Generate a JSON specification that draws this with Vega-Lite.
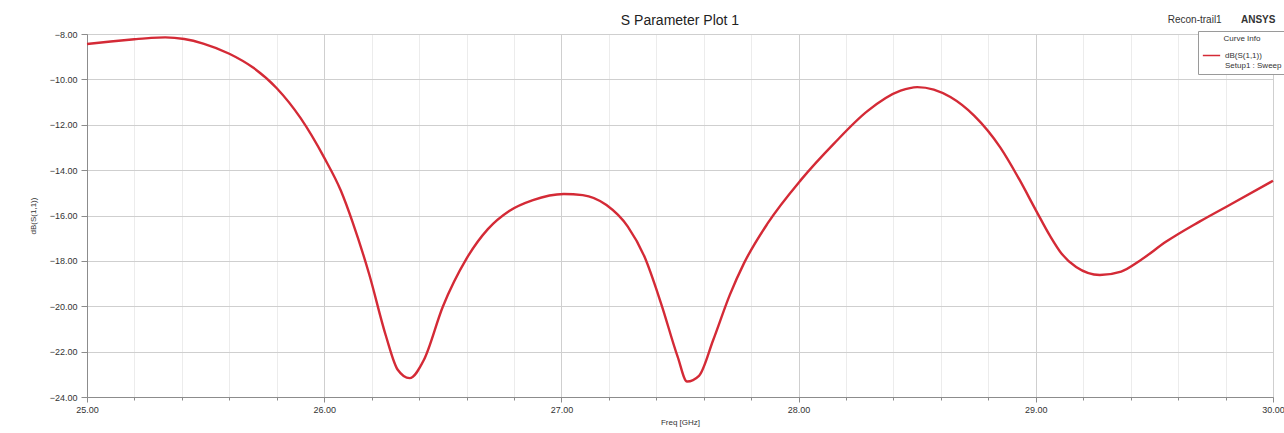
{
  "$schema": "https://vega.github.io/schema/vega-lite/v6.json",
  "width": 1186,
  "height": 363,
  "autosize": {"type": "none"},
  "padding": {"left": 87, "top": 34, "right": 11, "bottom": 36},
  "background": "white",
  "config": {
    "font": "Liberation Sans",
    "view": {"stroke": "#8c8c8c", "strokeWidth": 1}
  },
  "title": {
    "text": "S Parameter Plot 1",
    "fontSize": 14,
    "fontWeight": "normal",
    "color": "#222222",
    "offset": -13,
    "anchor": "middle"
  },
  "datasets": {
    "s11": [
      {"f": 25.00, "db": -8.44, "series": "dB(S(1,1))"},
      {"f": 25.10, "db": -8.33, "series": "dB(S(1,1))"},
      {"f": 25.20, "db": -8.23, "series": "dB(S(1,1))"},
      {"f": 25.27, "db": -8.17, "series": "dB(S(1,1))"},
      {"f": 25.33, "db": -8.15, "series": "dB(S(1,1))"},
      {"f": 25.41, "db": -8.22, "series": "dB(S(1,1))"},
      {"f": 25.49, "db": -8.42, "series": "dB(S(1,1))"},
      {"f": 25.60, "db": -8.87, "series": "dB(S(1,1))"},
      {"f": 25.70, "db": -9.48, "series": "dB(S(1,1))"},
      {"f": 25.80, "db": -10.39, "series": "dB(S(1,1))"},
      {"f": 25.90, "db": -11.70, "series": "dB(S(1,1))"},
      {"f": 26.00, "db": -13.45, "series": "dB(S(1,1))"},
      {"f": 26.07, "db": -14.90, "series": "dB(S(1,1))"},
      {"f": 26.12, "db": -16.30, "series": "dB(S(1,1))"},
      {"f": 26.19, "db": -18.60, "series": "dB(S(1,1))"},
      {"f": 26.26, "db": -21.30, "series": "dB(S(1,1))"},
      {"f": 26.31, "db": -22.80, "series": "dB(S(1,1))"},
      {"f": 26.36, "db": -23.17, "series": "dB(S(1,1))"},
      {"f": 26.42, "db": -22.37, "series": "dB(S(1,1))"},
      {"f": 26.50, "db": -20.02, "series": "dB(S(1,1))"},
      {"f": 26.60, "db": -17.90, "series": "dB(S(1,1))"},
      {"f": 26.69, "db": -16.60, "series": "dB(S(1,1))"},
      {"f": 26.78, "db": -15.80, "series": "dB(S(1,1))"},
      {"f": 26.88, "db": -15.32, "series": "dB(S(1,1))"},
      {"f": 27.01, "db": -15.05, "series": "dB(S(1,1))"},
      {"f": 27.09, "db": -15.10, "series": "dB(S(1,1))"},
      {"f": 27.19, "db": -15.54, "series": "dB(S(1,1))"},
      {"f": 27.28, "db": -16.49, "series": "dB(S(1,1))"},
      {"f": 27.35, "db": -17.81, "series": "dB(S(1,1))"},
      {"f": 27.42, "db": -19.87, "series": "dB(S(1,1))"},
      {"f": 27.49, "db": -22.22, "series": "dB(S(1,1))"},
      {"f": 27.53, "db": -23.32, "series": "dB(S(1,1))"},
      {"f": 27.58, "db": -23.07, "series": "dB(S(1,1))"},
      {"f": 27.64, "db": -21.49, "series": "dB(S(1,1))"},
      {"f": 27.71, "db": -19.50, "series": "dB(S(1,1))"},
      {"f": 27.77, "db": -18.10, "series": "dB(S(1,1))"},
      {"f": 27.87, "db": -16.34, "series": "dB(S(1,1))"},
      {"f": 28.01, "db": -14.43, "series": "dB(S(1,1))"},
      {"f": 28.15, "db": -12.82, "series": "dB(S(1,1))"},
      {"f": 28.29, "db": -11.40, "series": "dB(S(1,1))"},
      {"f": 28.43, "db": -10.50, "series": "dB(S(1,1))"},
      {"f": 28.50, "db": -10.34, "series": "dB(S(1,1))"},
      {"f": 28.57, "db": -10.45, "series": "dB(S(1,1))"},
      {"f": 28.64, "db": -10.78, "series": "dB(S(1,1))"},
      {"f": 28.74, "db": -11.60, "series": "dB(S(1,1))"},
      {"f": 28.85, "db": -13.00, "series": "dB(S(1,1))"},
      {"f": 28.93, "db": -14.40, "series": "dB(S(1,1))"},
      {"f": 29.00, "db": -15.76, "series": "dB(S(1,1))"},
      {"f": 29.06, "db": -16.90, "series": "dB(S(1,1))"},
      {"f": 29.11, "db": -17.70, "series": "dB(S(1,1))"},
      {"f": 29.17, "db": -18.27, "series": "dB(S(1,1))"},
      {"f": 29.27, "db": -18.62, "series": "dB(S(1,1))"},
      {"f": 29.36, "db": -18.47, "series": "dB(S(1,1))"},
      {"f": 29.44, "db": -17.98, "series": "dB(S(1,1))"},
      {"f": 29.55, "db": -17.15, "series": "dB(S(1,1))"},
      {"f": 29.69, "db": -16.27, "series": "dB(S(1,1))"},
      {"f": 29.83, "db": -15.46, "series": "dB(S(1,1))"},
      {"f": 30.00, "db": -14.47, "series": "dB(S(1,1))"}
    ]
  },
  "layer": [
    {
      "data": {"name": "s11"},
      "mark": {"type": "line", "strokeWidth": 2.4, "interpolate": "monotone"},
      "encoding": {
        "x": {
          "field": "f",
          "type": "quantitative",
          "title": "Freq [GHz]",
          "scale": {"domain": [25, 30], "nice": false, "zero": false},
          "axis": {
            "values": [25, 25.2, 25.4, 25.6, 25.8, 26, 26.2, 26.4, 26.6, 26.8, 27, 27.2, 27.4, 27.6, 27.8, 28, 28.2, 28.4, 28.6, 28.8, 29, 29.2, 29.4, 29.6, 29.8, 30],
            "labelExpr": "abs(datum.value - round(datum.value)) < 0.001 ? format(datum.value, '.2f') : ''",
            "labelFontSize": 9,
            "labelColor": "#333333",
            "labelPadding": 3,
            "labelFlush": false,
            "labelOverlap": false,
            "domainColor": "#8c8c8c",
            "tickColor": "#8c8c8c",
            "tickSize": {"condition": {"test": "abs(datum.value - round(datum.value)) < 0.001", "value": 5}, "value": 3},
            "gridColor": {"condition": {"test": "abs(datum.value - round(datum.value)) < 0.001", "value": "#cfcfcf"}, "value": "#ececec"},
            "titleFontSize": 8,
            "titleFontWeight": "normal",
            "titleColor": "#333333",
            "titlePadding": 4
          }
        },
        "y": {
          "field": "db",
          "type": "quantitative",
          "title": "dB(S(1,1))",
          "scale": {"domain": [-24, -8], "nice": false, "zero": false},
          "axis": {
            "values": [-24, -23.5, -23, -22.5, -22, -21.5, -21, -20.5, -20, -19.5, -19, -18.5, -18, -17.5, -17, -16.5, -16, -15.5, -15, -14.5, -14, -13.5, -13, -12.5, -12, -11.5, -11, -10.5, -10, -9.5, -9, -8.5, -8],
            "labelExpr": "abs(datum.value / 2 - round(datum.value / 2)) < 0.001 ? format(datum.value, '.2f') : ''",
            "labelFontSize": 9,
            "labelColor": "#333333",
            "labelPadding": 4,
            "labelFlush": false,
            "labelOverlap": false,
            "domainColor": "#8c8c8c",
            "tickColor": "#8c8c8c",
            "tickSize": {"condition": {"test": "abs(datum.value / 2 - round(datum.value / 2)) < 0.001", "value": 6}, "value": 3},
            "gridColor": {"condition": {"test": "abs(datum.value / 2 - round(datum.value / 2)) < 0.001", "value": "#cfcfcf"}, "value": "#ececec"},
            "titleFontSize": 8,
            "titleFontWeight": "normal",
            "titleColor": "#333333",
            "titlePadding": 12
          }
        },
        "color": {
          "field": "series",
          "type": "nominal",
          "scale": {"range": ["#d42a36"]},
          "legend": {
            "orient": "none",
            "legendX": 1111,
            "legendY": -3,
            "title": "Curve Info",
            "titleFontSize": 8,
            "titleFontWeight": "normal",
            "titleColor": "#333333",
            "titleAnchor": "middle",
            "titlePadding": 3,
            "labelFontSize": 8,
            "labelColor": "#333333",
            "labelExpr": "['dB(S(1,1))', 'Setup1 : Sweep']",
            "symbolType": "stroke",
            "symbolStrokeWidth": 1.5,
            "symbolSize": 300,
            "strokeColor": "#9a9a9a",
            "fillColor": "white",
            "padding": 4,
            "cornerRadius": 0
          }
        }
      }
    },
    {
      "data": {"values": [{}]},
      "mark": {"type": "text", "fontSize": 10, "color": "#333333", "align": "center", "baseline": "middle"},
      "encoding": {
        "x": {"datum": 29.67, "type": "quantitative"},
        "y": {"datum": -7.38, "type": "quantitative"},
        "text": {"value": "Recon-trail1"}
      }
    },
    {
      "data": {"values": [{}]},
      "mark": {"type": "text", "fontSize": 10, "fontWeight": "bold", "color": "#333333", "align": "left", "baseline": "middle"},
      "encoding": {
        "x": {"datum": 29.865, "type": "quantitative"},
        "y": {"datum": -7.38, "type": "quantitative"},
        "text": {"value": "ANSYS"}
      }
    }
  ]
}
